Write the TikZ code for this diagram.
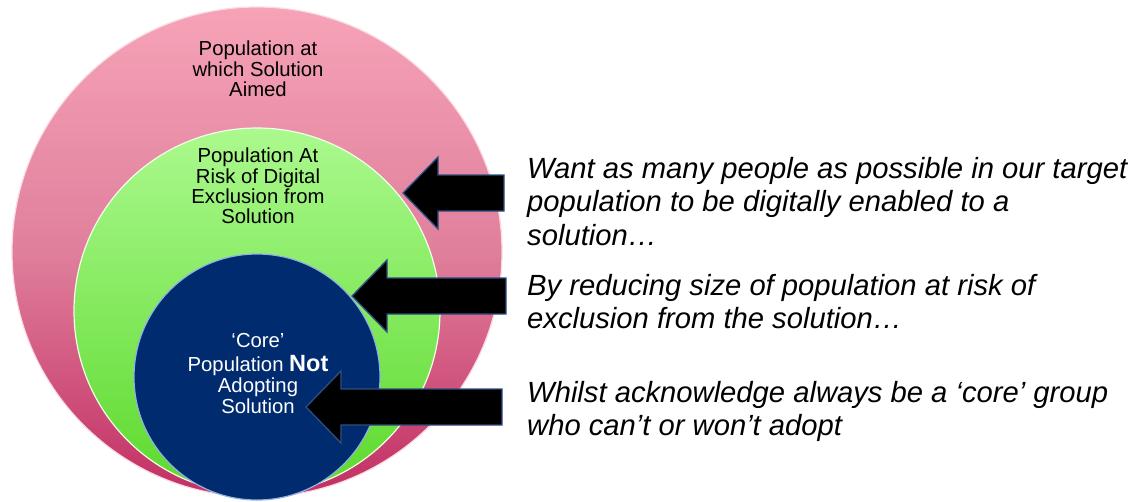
\documentclass[tikz,border=0pt]{standalone}
\usepackage{fontspec}
\setmainfont{Liberation Sans}
\definecolor{aimedtop}{HTML}{F6A3B7}
\definecolor{aimedmid}{HTML}{E07F9C}
\definecolor{aimedbot}{HTML}{C22E63}
\definecolor{risktop}{HTML}{ABF98E}
\definecolor{riskbot}{HTML}{5CD92C}
\definecolor{corefill}{HTML}{002C6F}
\definecolor{corerim}{HTML}{8FB2E3}
\definecolor{arrowrim}{HTML}{2F4E80}
\tikzset{
  ring/.style={circle,inner sep=0pt,line width=1.2pt},
  ring label/.style={align=center,inner sep=0pt,font=\fontsize{20.3}{20.3}\selectfont},
  note/.style={anchor=north west,align=left,inner sep=0pt,font=\fontsize{29.2}{33.5}\selectfont\itshape},
  block arrow/.style={fill=black,draw=arrowrim,line width=1.3pt,line join=miter}
}

\begin{document}
\begin{tikzpicture}[x=1pt,y=-1pt]
  \useasboundingbox (0,0) rectangle (1142,501);
  % the three nested populations
  \node[ring,minimum size=490pt,top color=aimedtop,bottom color=aimedbot,middle color=aimedmid,draw=white!60!aimedtop] (aimed) at (257,252) {};
  \node[ring,minimum size=366pt,top color=risktop,bottom color=riskbot,draw=white!80!risktop] (risk) at (257,311) {};
  \node[ring,minimum size=246pt,fill=corefill,draw=corerim] (core) at (257,377) {};
  \node[ring label] (aimedlabel) at (258,69) {Population at\\which Solution\\Aimed};
  \node[ring label] (risklabel) at (258,186) {Population At\\Risk of Digital\\Exclusion from\\Solution};
  \node[ring label,text=white,font=\fontsize{20.3}{21}\selectfont] (corelabel) at (258,374)
    {‘Core’\\[3pt]Population {\fontsize{23.5}{21}\selectfont\bfseries Not}\\Adopting\\Solution};
  % block arrows: tip x / tip y / tail x
  \foreach \tx/\ty/\ex in {403/193/504,352/296/506,306/407/502}
    \draw[block arrow] (\ex,\ty-18) -- (\tx+35,\ty-18) -- (\tx+35,\ty-36) -- (\tx,\ty)
      -- (\tx+35,\ty+36) -- (\tx+35,\ty+18) -- (\ex,\ty+18) -- cycle;
  % notes
  \node[note] (wantnote) at (527,157) {Want as many people as possible in our target\\population to be digitally enabled to a\\solution…};
  \node[note] (reducenote) at (527,274) {By reducing size of population at risk of\\exclusion from the solution…};
  \node[note] (corenote) at (527,381) {Whilst acknowledge always be a ‘core’ group\\who can’t or won’t adopt};
\end{tikzpicture}
\end{document}
